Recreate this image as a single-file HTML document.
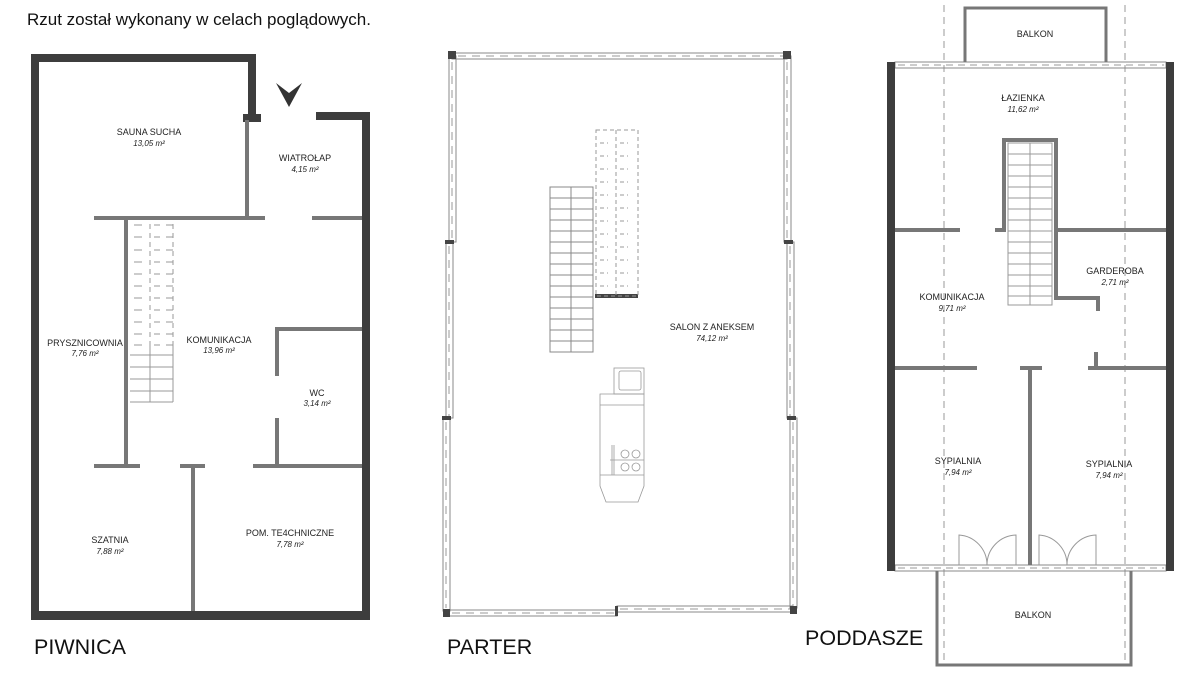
<!DOCTYPE html>
<html><head><meta charset="utf-8"><style>
html,body{margin:0;padding:0;background:#fff;}
svg{display:block;font-family:"Liberation Sans",sans-serif;}
.l{font-size:9px;fill:#222;text-anchor:middle;}
.a{font-size:8px;font-style:italic;fill:#222;text-anchor:middle;}
.t{font-size:21.5px;fill:#111;}
</style></head><body>
<svg width="1200" height="675" viewBox="0 0 1200 675" xmlns="http://www.w3.org/2000/svg">
<text x="27" y="25" font-size="17" fill="#111">Rzut został wykonany w celach poglądowych.</text>

<!-- PIWNICA -->
<g fill="#3d3d3d">
<rect x="31" y="54" width="225" height="8"/>
<rect x="31" y="54" width="8" height="566"/>
<rect x="248" y="54" width="8" height="68"/>
<rect x="243" y="114" width="18" height="8"/>
<rect x="316" y="112" width="54" height="8"/>
<rect x="362" y="112" width="8" height="508"/>
<rect x="31" y="611" width="339" height="9"/>
</g>
<polygon points="276,83 289,93 302,83 289,107" fill="#333"/>
<g stroke="#777" stroke-width="4" fill="none">
<line x1="247" y1="120" x2="247" y2="218"/>
<line x1="94" y1="218" x2="265" y2="218"/>
<line x1="312" y1="218" x2="362" y2="218"/>
<line x1="126" y1="218" x2="126" y2="466"/>
<line x1="94" y1="466" x2="140" y2="466"/>
<line x1="180" y1="466" x2="205" y2="466"/>
<line x1="253" y1="466" x2="362" y2="466"/>
<line x1="193" y1="466" x2="193" y2="611"/>
<line x1="275" y1="329" x2="362" y2="329"/>
<line x1="277" y1="329" x2="277" y2="376"/>
<line x1="277" y1="418" x2="277" y2="466"/>
</g>
<g stroke="#999" stroke-width="1" fill="none">
<line x1="130" y1="355" x2="173" y2="355"/><line x1="130" y1="367" x2="173" y2="367"/>
<line x1="130" y1="379" x2="173" y2="379"/><line x1="130" y1="391" x2="173" y2="391"/>
<line x1="130" y1="402" x2="173" y2="402"/>
<line x1="150" y1="345" x2="150" y2="402"/><line x1="173" y1="345" x2="173" y2="402"/>
<g stroke-dasharray="5,4">
<line x1="150" y1="224" x2="150" y2="345"/><line x1="173" y1="224" x2="173" y2="345"/>
</g>
<path d="M134 237h8M154 237h6M166 237h7M134 250h8M154 250h6M166 250h7M134 262h8M154 262h6M166 262h7M134 274h8M154 274h6M166 274h7M134 286h8M154 286h6M166 286h7M134 298h8M154 298h6M166 298h7M134 310h8M154 310h6M166 310h7M134 322h8M154 322h6M166 322h7M134 334h8M154 334h6M166 334h7M134 345h8M154 345h6M166 345h7M134 225h8M154 225h6M166 225h7"/>
</g>
<text class="l" x="149" y="135">SAUNA SUCHA</text><text class="a" x="149" y="146">13,05 m²</text>
<text class="l" x="305" y="161">WIATROŁAP</text><text class="a" x="305" y="172">4,15 m²</text>
<text class="l" x="85" y="346">PRYSZNICOWNIA</text><text class="a" x="85" y="356">7,76 m²</text>
<text class="l" x="219" y="343">KOMUNIKACJA</text><text class="a" x="219" y="353">13,96 m²</text>
<text class="l" x="317" y="396">WC</text><text class="a" x="317" y="406">3,14 m²</text>
<text class="l" x="110" y="543">SZATNIA</text><text class="a" x="110" y="554">7,88 m²</text>
<text class="l" x="290" y="536">POM. TE4CHNICZNE</text><text class="a" x="290" y="547">7,78 m²</text>
<text class="t" x="34" y="654">PIWNICA</text>

<!-- PARTER -->
<g fill="none" stroke="#888" stroke-width="1">
<rect x="452" y="53" width="335" height="6"/>
<rect x="449" y="56" width="7" height="186"/>
<rect x="446" y="242" width="7" height="176"/>
<rect x="443" y="418" width="7" height="193"/>
<rect x="784" y="56" width="7" height="186"/>
<rect x="787" y="242" width="7" height="176"/>
<rect x="790" y="418" width="7" height="190"/>
<rect x="447" y="610" width="170" height="6"/>
<rect x="617" y="606" width="176" height="6"/>
</g>
<g stroke="#999" stroke-width="1" stroke-dasharray="8,6">
<line x1="458" y1="56" x2="784" y2="56"/>
<line x1="452" y1="62" x2="452" y2="240"/><line x1="449" y1="246" x2="449" y2="416"/><line x1="446" y1="422" x2="446" y2="608"/>
<line x1="787" y1="62" x2="787" y2="240"/><line x1="790" y1="246" x2="790" y2="416"/><line x1="793" y1="422" x2="793" y2="606"/>
<line x1="452" y1="613" x2="614" y2="613"/><line x1="620" y1="609" x2="790" y2="609"/>
</g>
<g fill="#444">
<rect x="448" y="51" width="8" height="8"/><rect x="783" y="51" width="8" height="8"/>
<rect x="445" y="240" width="9" height="4"/><rect x="784" y="240" width="9" height="4"/>
<rect x="442" y="416" width="9" height="4"/><rect x="787" y="416" width="9" height="4"/>
<rect x="443" y="609" width="7" height="8"/><rect x="790" y="606" width="7" height="8"/>
<rect x="615" y="606" width="3" height="10"/>
<rect x="595" y="294" width="43" height="4"/>
</g>
<g stroke="#888" stroke-width="1" fill="none">
<rect x="550" y="187" width="43" height="165"/>
<line x1="571" y1="187" x2="571" y2="352"/>
<path d="M550 198h43M550 209h43M550 220h43M550 231h43M550 242h43M550 253h43M550 264h43M550 275h43M550 286h43M550 297h43M550 308h43M550 319h43M550 330h43M550 341h43"/>
</g>
<g stroke="#999" stroke-width="1" fill="none" stroke-dasharray="4,3">
<rect x="596" y="130" width="42" height="166"/>
<line x1="616" y1="130" x2="616" y2="296"/>
<path d="M600 143h8M620 143h8M600 156h8M620 156h8M600 169h8M620 169h8M600 182h8M620 182h8M600 195h8M620 195h8M600 208h8M620 208h8M600 221h8M620 221h8M600 234h8M620 234h8M600 247h8M620 247h8M600 260h8M620 260h8M600 273h8M620 273h8M600 286h8M620 286h8"/>
</g>
<g stroke="#999" stroke-width="0.8" fill="none">
<rect x="614" y="368" width="30" height="26"/>
<rect x="619" y="371" width="22" height="19" rx="2"/>
<path d="M600 394h44v92l-6 16h-32l-6-16z"/>
<line x1="600" y1="405" x2="644" y2="405"/>
<line x1="600" y1="475" x2="644" y2="475"/>
<line x1="614" y1="445" x2="614" y2="475"/><line x1="612" y1="445" x2="612" y2="475"/>
<line x1="610" y1="460" x2="644" y2="460"/>
<circle cx="625" cy="454" r="4"/><circle cx="636" cy="454" r="4"/>
<circle cx="625" cy="467" r="4"/><circle cx="636" cy="467" r="4"/>
</g>
<text class="l" x="712" y="330">SALON Z ANEKSEM</text><text class="a" x="712" y="341">74,12 m²</text>
<text class="t" x="447" y="654">PARTER</text>

<!-- PODDASZE -->
<g stroke="#999" stroke-width="1" stroke-dasharray="7,5">
<line x1="944" y1="5" x2="944" y2="665"/>
<line x1="1125" y1="5" x2="1125" y2="665"/>
<line x1="898" y1="65" x2="1164" y2="65"/>
<line x1="898" y1="568" x2="1164" y2="568"/>
</g>
<g fill="none" stroke="#888" stroke-width="1">
<rect x="895" y="62" width="271" height="6"/>
<rect x="895" y="565" width="271" height="6"/>
</g>
<g fill="none" stroke="#777" stroke-width="3">
<path d="M965 62V8h141v54"/>
<path d="M937 571v94h194v-94"/>
</g>
<g fill="#3d3d3d">
<rect x="887" y="62" width="8" height="509"/>
<rect x="1166" y="62" width="8" height="509"/>
</g>
<g stroke="#777" stroke-width="4" fill="none">
<line x1="895" y1="230" x2="960" y2="230"/>
<line x1="995" y1="230" x2="1006" y2="230"/>
<path d="M1004 230V140h52v158h42v13"/>
<line x1="1054" y1="230" x2="1166" y2="230"/>
<line x1="1096" y1="352" x2="1096" y2="368"/>
<line x1="895" y1="368" x2="977" y2="368"/>
<line x1="1020" y1="368" x2="1042" y2="368"/>
<line x1="1088" y1="368" x2="1166" y2="368"/>
<line x1="1030" y1="368" x2="1030" y2="565"/>
</g>
<g stroke="#999" stroke-width="1" fill="none">
<rect x="1008" y="143" width="44" height="162"/>
<line x1="1030" y1="143" x2="1030" y2="305"/>
<path d="M1008 154h44M1008 165h44M1008 176h44M1008 187h44M1008 198h44M1008 209h44M1008 220h44M1008 231h44M1008 242h44M1008 253h44M1008 264h44M1008 275h44M1008 286h44M1008 296h44"/>
<path d="M959 565v-30a30 30 0 0 1 28 30a30 30 0 0 1 29-30v30"/>
<path d="M1039 565v-30a30 30 0 0 1 28 30a30 30 0 0 1 29-30v30"/>
</g>
<text class="l" x="1035" y="37">BALKON</text>
<text class="l" x="1023" y="101">ŁAZIENKA</text><text class="a" x="1023" y="112">11,62 m²</text>
<text class="l" x="952" y="300">KOMUNIKACJA</text><text class="a" x="952" y="311">9,71 m²</text>
<text class="l" x="1115" y="274">GARDEROBA</text><text class="a" x="1115" y="285">2,71 m²</text>
<text class="l" x="958" y="464">SYPIALNIA</text><text class="a" x="958" y="475">7,94 m²</text>
<text class="l" x="1109" y="467">SYPIALNIA</text><text class="a" x="1109" y="478">7,94 m²</text>
<text class="l" x="1033" y="618">BALKON</text>
<text class="t" x="805" y="645">PODDASZE</text>
</svg>
</body></html>
